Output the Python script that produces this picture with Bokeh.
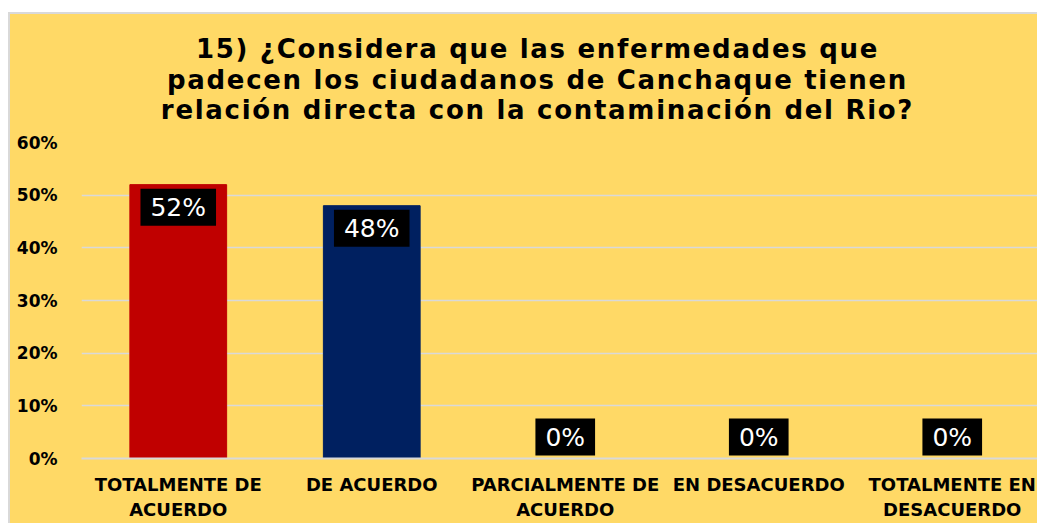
from bokeh.plotting import figure
from bokeh.models import ColumnDataSource, Range1d, FixedTicker, NumeralTickFormatter, Div
from bokeh.layouts import column
from bokeh.core.properties import value
from bokeh.embed import file_html
from bokeh.resources import INLINE

# ---- data ----
categories = ["TOTALMENTE DE\nACUERDO", "DE ACUERDO", "PARCIALMENTE DE\nACUERDO",
              "EN DESACUERDO", "TOTALMENTE EN\nDESACUERDO"]
values = [0.52, 0.48, 0.0, 0.0, 0.0]
value_labels = ["52%", "48%", "0%", "0%", "0%"]
bar_colors = ["#C00000", "#002060", "#C00000", "#002060", "#C00000"]
y_ticks = [0.0, 0.1, 0.2, 0.3, 0.4, 0.5, 0.6]
title_lines = ["15) ¿Considera que las enfermedades que",
               "padecen los ciudadanos de Canchaque tienen",
               "relación directa con la contaminación del Rio?"]

BG = "#FFD966"
GRID = "#D9D9D9"
FONT = "DejaVu Sans"

xs = [i + 0.5 for i in range(len(categories))]

W = 1027
title_h = 118
left_b, top_b, bot_b = 71, 10, 64
frame_h = 317
H = top_b + frame_h + bot_b
frame_w = W - left_b
cat_px = 193.5

title_html = (
    '<div style="box-sizing:border-box; width:%dpx; padding-left:28px; padding-top:20px; '
    'text-align:center; white-space:nowrap; font-family:\'DejaVu Sans\'; font-weight:bold; '
    'font-size:26px; letter-spacing:1.7px; line-height:30.5px; color:#000000;">' % W
    + "<br>".join(title_lines) + "</div>"
)
title_div = Div(text=title_html, width=W, height=title_h,
                styles={"background-color": BG, "margin": "0", "padding": "0"})

p = figure(width=W, height=H, output_backend="svg", toolbar_location=None,
           x_range=Range1d(0, frame_w / cat_px), y_range=Range1d(0, 0.6),
           min_border_left=left_b, min_border_right=0, min_border_top=top_b,
           min_border_bottom=bot_b, background_fill_color=BG, border_fill_color=BG,
           outline_line_color=None)

src = ColumnDataSource(dict(x=xs, top=values, color=bar_colors, label=value_labels))
p.vbar(x="x", top="top", width=0.5, bottom=0, color="color", source=src)

# y axis
p.yaxis.ticker = FixedTicker(ticks=y_ticks)
p.yaxis.formatter = NumeralTickFormatter(format="0%")
p.yaxis.axis_line_color = None
p.yaxis.major_tick_line_color = None
p.yaxis.minor_tick_line_color = None
p.yaxis.major_tick_out = 0
p.yaxis.major_tick_in = 0
p.yaxis.major_label_standoff = 24
p.yaxis.major_label_text_font = FONT
p.yaxis.major_label_text_font_style = "bold"
p.yaxis.major_label_text_font_size = "17px"
p.yaxis.major_label_text_color = "#000000"

# x axis
p.xaxis.ticker = FixedTicker(ticks=xs)
p.xaxis.major_label_overrides = {x: c for x, c in zip(xs, categories)}
p.xaxis.axis_line_color = GRID
p.xaxis.axis_line_width = 2
p.xaxis.major_tick_line_color = None
p.xaxis.minor_tick_line_color = None
p.xaxis.major_tick_out = 0
p.xaxis.major_tick_in = 0
p.xaxis.major_label_standoff = 15
p.xaxis.major_label_text_font = FONT
p.xaxis.major_label_text_font_style = "bold"
p.xaxis.major_label_text_font_size = "18px"
p.xaxis.major_label_text_color = "#000000"
p.xaxis.major_label_text_line_height = 1.23

p.xgrid.grid_line_color = None
p.ygrid.ticker = FixedTicker(ticks=y_ticks)
p.ygrid.grid_line_color = GRID
p.ygrid.grid_line_width = 1.5

# data labels
pos = [i for i, v in enumerate(values) if v > 0]
zer = [i for i, v in enumerate(values) if v == 0]
src_pos = ColumnDataSource(dict(x=[xs[i] for i in pos], y=[values[i] for i in pos],
                                t=[value_labels[i] for i in pos]))
src_zer = ColumnDataSource(dict(x=[xs[i] for i in zer], y=[values[i] for i in zer],
                                t=[value_labels[i] for i in zer]))
common = dict(x="x", y="y", text="t", text_font=value(FONT), text_font_size="25px",
              text_color="#FFFFFF", text_align="center", background_fill_color="#000000",
              padding=dict(left=10, right=10, top=4, bottom=4))
p.text(source=src_pos, text_baseline="top", y_offset=4, **common)
p.text(source=src_zer, text_baseline="bottom", y_offset=-3, **common)

layout = column(title_div, p, spacing=0,
                styles={"border-top": "2px solid #D9D9D9", "border-left": "2px solid #D9D9D9",
                        "margin-top": "12px", "margin-left": "8px", "background-color": BG})

open("out.html", "w").write(file_html(layout, INLINE))
